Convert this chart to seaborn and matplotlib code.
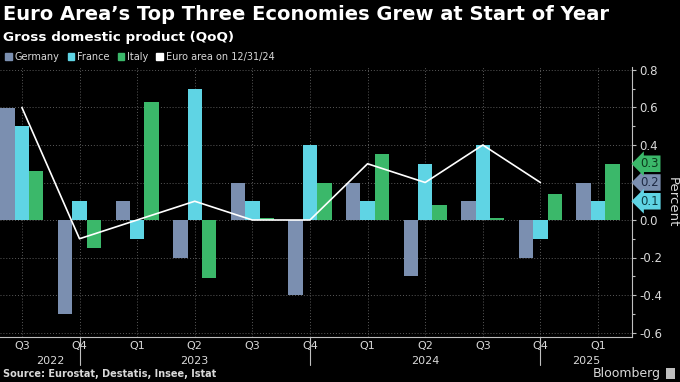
import numpy as np
import pandas as pd
import matplotlib
matplotlib.use("Agg")
import matplotlib.pyplot as plt
from matplotlib.patches import Patch, Rectangle
from matplotlib.ticker import MultipleLocator
import seaborn as sns

# data (QoQ GDP, percent)
periods = ["2022Q3", "2022Q4", "2023Q1", "2023Q2", "2023Q3", "2023Q4",
           "2024Q1", "2024Q2", "2024Q3", "2024Q4", "2025Q1"]
quarter_labels = ["Q3", "Q4", "Q1", "Q2", "Q3", "Q4", "Q1", "Q2", "Q3", "Q4", "Q1"]
year_labels = ["2022", "2023", "2024", "2025"]
germany = [0.6, -0.5, 0.1, -0.2, 0.2, -0.4, 0.2, -0.3, 0.1, -0.2, 0.2]
france = [0.5, 0.1, -0.1, 0.7, 0.1, 0.4, 0.1, 0.3, 0.4, -0.1, 0.1]
italy = [0.26, -0.15, 0.63, -0.31, 0.01, 0.2, 0.35, 0.08, 0.01, 0.14, 0.3]
euro_area = [0.6, -0.1, 0.0, 0.1, 0.0, 0.0, 0.3, 0.2, 0.4, 0.2]
countries = ["Germany", "France", "Italy"]
latest = [germany[-1], france[-1], italy[-1]]

colors = {"Germany": "#7b8fb0", "France": "#5fd4e4", "Italy": "#3bb86a"}
tag_text = {"Germany": "#1e2a44", "France": "#0c3c44", "Italy": "#0c3a1c"}
fg = "#d9d9d9"

df = pd.DataFrame({"period": periods * 3,
                   "country": np.repeat(countries, len(periods)),
                   "value": germany + france + italy})

sns.set_style("dark")
plt.rcParams["font.family"] = ["DejaVu Sans"]

fig = plt.figure(figsize=(6.8, 3.82), dpi=100, facecolor="black")
ax = fig.add_axes([0.0, 1 - 337 / 382, 632 / 680, 270 / 382])
ax.set_facecolor("black")

sns.barplot(data=df, x="period", y="value", hue="country", hue_order=countries,
            palette=colors, width=0.75, saturation=1, edgecolor="none",
            legend=False, ax=ax)
sns.lineplot(x=np.arange(len(euro_area)), y=euro_area, color="white",
             linewidth=1.2, ax=ax)

ax.set_xlim(-0.38, 10.59)
ax.set_ylim(-0.624, 0.816)

# grid
ax.grid(True, color="#5a5a5a", linestyle=(0, (1, 2)), linewidth=0.7)
ax.set_axisbelow(True)

# axes / spines
for s in ["top", "left"]:
    ax.spines[s].set_visible(False)
for s in ["right", "bottom"]:
    ax.spines[s].set_visible(True)
    ax.spines[s].set_color("#bfbfbf")
    ax.spines[s].set_linewidth(0.8)

ax.yaxis.tick_right()
ax.yaxis.set_label_position("right")
ax.yaxis.set_minor_locator(MultipleLocator(0.1))
ax.set_yticks(np.arange(-0.6, 0.81, 0.2))
ax.set_yticklabels([f"{v:.1f}" for v in np.arange(-0.6, 0.81, 0.2)])
ax.tick_params(axis="y", which="both", colors="#bfbfbf", labelcolor=fg,
               labelsize=8.5, length=3, width=0.8, right=True, left=False, pad=2)
ax.tick_params(axis="y", which="minor", length=2)
ax.set_ylabel("Percent", color=fg, fontsize=9.5, rotation=270, labelpad=12)

ax.set_xticks(range(len(quarter_labels)))
ax.set_xticklabels(quarter_labels)
ax.tick_params(axis="x", colors="#bfbfbf", labelcolor=fg, labelsize=8,
               length=2, width=0.8, pad=1)
ax.set_xlabel("")

# year separators and labels
xt = ax.get_xaxis_transform()
for i, q in enumerate(quarter_labels):
    if q == "Q4":
        ax.plot([i, i], [0, -0.104], transform=xt, color="#bfbfbf",
                linewidth=0.8, clip_on=False)
year_pos = [0.5, 3, 7, 9.8]
for yp, yl in zip(year_pos, year_labels):
    ax.text(yp, -0.09, yl, transform=xt, ha="center", va="center",
            color=fg, fontsize=8)

# latest-value tags on the right axis
yt = ax.get_yaxis_transform()
for c, v in zip(countries, latest):
    ax.text(1.013, v, f"{v:.1f}", transform=yt, ha="left", va="center",
            fontsize=8.5, color=tag_text[c], clip_on=False, zorder=10,
            bbox=dict(boxstyle="larrow,pad=0.15", fc=colors[c], ec="none"))

# titles and legend
fig.text(0.004, 1 - 15 / 382, "Euro Area’s Top Three Economies Grew at Start of Year",
         color="white", fontsize=14, fontweight="bold", va="center", ha="left")
fig.text(0.004, 1 - 37 / 382, "Gross domestic product (QoQ)",
         color="white", fontsize=9.7, fontweight="bold", va="center", ha="left")

handles = [Patch(color=colors[c], label=c) for c in countries]
handles.append(Patch(color="white", label="Euro area on 12/31/24"))
leg = fig.legend(handles=handles, loc="center left", bbox_to_anchor=(0.002, 1 - 57 / 382),
                 ncol=4, frameon=False, fontsize=7, handlelength=0.7,
                 handleheight=0.7, handletextpad=0.3, columnspacing=0.8,
                 borderaxespad=0)
for t in leg.get_texts():
    t.set_color(fg)

fig.text(0.005, 1 - 374 / 382, "Source: Eurostat, Destatis, Insee, Istat",
         color=fg, fontsize=7, fontweight="bold", va="center", ha="left")
fig.text(0.971, 1 - 373 / 382, "Bloomberg", color=fg, fontsize=9,
         va="center", ha="right")
fig.patches.append(Rectangle((666 / 680, 1 - 379 / 382), 9 / 680, 11 / 382,
                             transform=fig.transFigure, fc="#bfbfbf", ec="none"))

fig.savefig("out.png", dpi=100, facecolor="black")
